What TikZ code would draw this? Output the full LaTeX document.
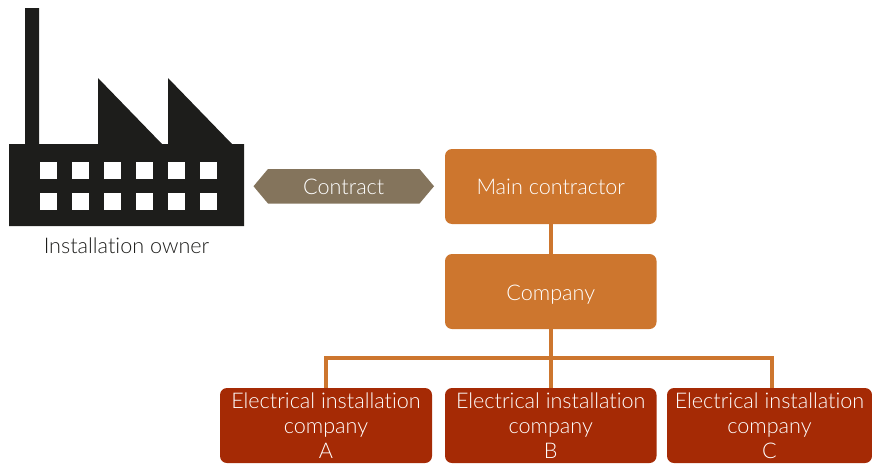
\documentclass[tikz,border=0pt]{standalone}
\usepackage{fontspec}
\setmainfont[Ligatures=NoCommon]{Lato Light}
\usetikzlibrary{positioning}
\usetikzlibrary{shapes.symbols}
\definecolor{factoryblack}{HTML}{1D1D1B}
\definecolor{contractbrown}{HTML}{84745C}
\definecolor{mainorange}{HTML}{CD762E}
\definecolor{elecred}{HTML}{A52A05}
\tikzset{
  labelfont/.style={font=\fontsize{21.6}{25}\selectfont},
  orangebox/.style={labelfont,fill=mainorange,text=white,rounded corners=7pt,minimum width=211.5pt,minimum height=75pt,inner sep=0pt,outer sep=0pt,text height=16pt,text depth=0pt},
  redbox/.style={labelfont,fill=elecred,text=white,rounded corners=7pt,minimum height=75pt,inner sep=0pt,outer sep=0pt,align=center,execute at begin node={\rule{0pt}{23pt}}},
  contractsign/.style={labelfont,signal,signal to=west and east,signal pointer angle=100,fill=contractbrown,text=white,minimum width=180.5pt,minimum height=34.5pt,inner sep=0pt,outer sep=0pt,text height=16pt,text depth=0pt},
  orgline/.style={draw=mainorange,line width=4pt}
}
\begin{document}
\begin{tikzpicture}[x=1pt,y=-1pt]
\useasboundingbox (0,0) rectangle (872,463);
% factory
\fill[factoryblack] (25,8) -- (39,8) -- (39,144) -- (98,144) -- (98,78) -- (162,144) -- (168,144) -- (168,78) -- (232,144) -- (244,144) -- (244,226) -- (9,226) -- (9,144) -- (25,144) -- cycle;
\foreach \x in {40,72,104,136,168,200} {
  \foreach \y in {162,193} {
    \fill[white] (\x,\y) rectangle (\x+17,\y+17);
  }
}
\node[labelfont,text=factoryblack] (owner) at (126.5,246) {Installation owner};
\node[contractsign] (contract) at (343.75,186.25) {Contract};
\node[orangebox] (main) at (550.75,186.5) {Main contractor};
\node[orangebox,text height=18pt] (company) at (550.75,291.5) {Company};
\node[redbox,minimum width=212pt] (elecA) at (326,425.5) {Electrical installation\\company\\A};
\node[redbox,minimum width=211.5pt] (elecB) at (550.75,425.5) {Electrical installation\\company\\B};
\node[redbox,minimum width=205pt] (elecC) at (769.5,425.5) {Electrical installation\\company\\C};
\coordinate (busC) at (772,357.5);
\draw[orgline] (main) -- (company);
\draw[orgline] (company) -- (elecB);
\draw[orgline] (elecA.north) |- (busC) -- (busC |- elecC.north);
\end{tikzpicture}
\end{document}
